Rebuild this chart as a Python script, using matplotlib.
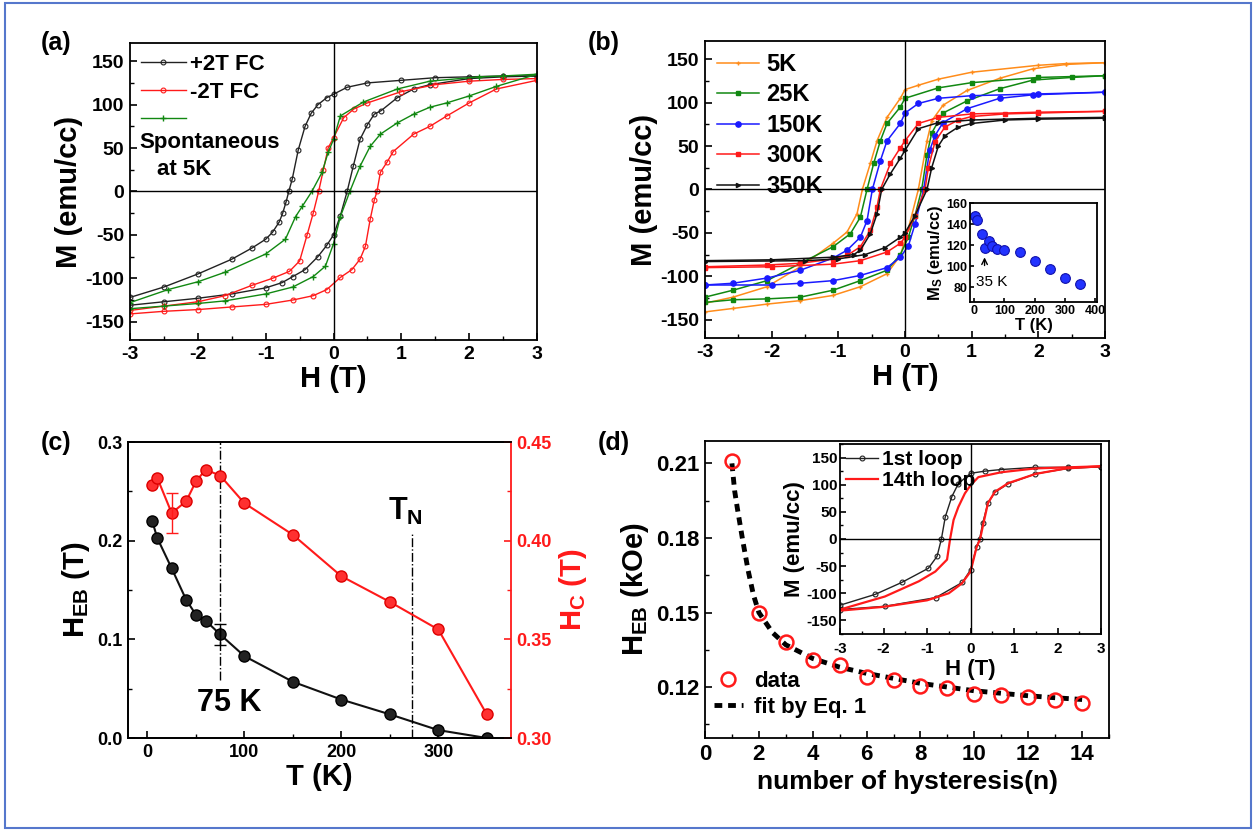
import matplotlib
matplotlib.use('Agg')
import matplotlib.pyplot as plt
from matplotlib.ticker import MultipleLocator
from matplotlib.patches import Rectangle

# ---- (a) field-cooled loops at 5 K ----
a_black_desc_H = [3.0, 2.5, 2.0, 1.5, 1.0, 0.5, 0.2, 0.0, -0.1, -0.23, -0.33, -0.42, -0.52, -0.61, -0.66, -0.7, -0.75, -0.8, -0.9, -1.0, -1.2, -1.5, -2.0, -2.5, -3.0]
a_black_desc_M = [133, 133, 132, 131, 128, 125, 120, 112, 108, 100, 90, 75, 48, 14, 0, -12, -25, -35, -47, -55, -65, -78, -95, -110, -122]
a_black_asc_H = [-3.0, -2.5, -2.0, -1.5, -1.0, -0.76, -0.6, -0.42, -0.23, -0.1, 0.0, 0.1, 0.2, 0.29, 0.39, 0.5, 0.6, 0.7, 0.94, 1.18, 1.42, 2.0, 2.5, 3.0]
a_black_asc_M = [-131, -127, -123, -118, -111, -105, -98, -90, -75, -62, -50, -28, 0, 29, 60, 77, 89, 93, 108, 118, 123, 130, 132, 133]

a_red_desc_H = [3.0, 2.5, 2.0, 1.5, 1.0, 0.5, 0.3, 0.15, 0.0, -0.08, -0.15, -0.22, -0.3, -0.39, -0.5, -0.65, -0.9, -1.2, -1.6, -2.0, -2.5, -3.0]
a_red_desc_M = [130, 129, 127, 123, 115, 102, 95, 85, 62, 50, 25, 0, -25, -50, -80, -92, -100, -108, -120, -127, -132, -137]
a_red_asc_H = [-3.0, -2.5, -2.0, -1.5, -1.0, -0.6, -0.3, -0.1, 0.1, 0.27, 0.39, 0.47, 0.54, 0.6, 0.64, 0.69, 0.79, 0.88, 1.18, 1.42, 1.67, 2.0, 2.4, 3.0]
a_red_asc_M = [-141, -138, -136, -133, -130, -125, -120, -113, -99, -90, -78, -63, -32, -10, 0, 22, 34, 46, 66, 75, 87, 102, 118, 128]

a_green_desc_H = [3.0, 2.5, 2.15, 1.42, 0.94, 0.44, 0.1, 0.0, -0.08, -0.17, -0.32, -0.46, -0.56, -0.71, -1.0, -1.6, -2.0, -2.44, -3.0]
a_green_desc_M = [135, 133, 132, 127, 118, 103, 87, 60, 45, 22, 0, -17, -29, -55, -72, -93, -104, -113, -128]
a_green_asc_H = [-3.0, -2.5, -2.0, -1.6, -1.0, -0.6, -0.3, -0.12, 0.0, 0.1, 0.24, 0.39, 0.54, 0.69, 0.94, 1.18, 1.42, 1.67, 2.0, 2.4, 3.0]
a_green_asc_M = [-135, -132, -129, -126, -118, -110, -98, -86, -60, -29, 0, 29, 52, 66, 79, 89, 97, 102, 110, 121, 135]

# ---- (b) loops at different temperatures ----
b5_desc_H = [3.0, 2.42, 2.0, 1.0, 0.5, 0.2, 0.0, -0.07, -0.27, -0.42, -0.52, -0.64, -0.72, -0.87, -1.08, -1.57, -2.07, -2.58, -3.0]
b5_desc_M = [146, 145, 143, 135, 127, 120, 115, 105, 83, 56, 30, 0, -28, -49, -62, -89, -112, -124, -131]
b5_asc_H = [-3.0, -2.58, -2.07, -1.57, -1.08, -0.67, -0.27, -0.07, 0.05, 0.2, 0.33, 0.4, 0.57, 0.93, 1.42, 1.92, 2.42, 3.0]
b5_asc_M = [-141, -137, -132, -128, -122, -112, -97, -76, -45, 0, 56, 79, 97, 114, 128, 139, 144, 146]

b25_desc_H = [3.0, 2.0, 1.0, 0.5, 0.0, -0.07, -0.27, -0.37, -0.47, -0.57, -0.67, -0.82, -1.08, -1.57, -2.07, -2.58, -3.0]
b25_desc_M = [131, 129, 123, 117, 105, 95, 76, 56, 30, 0, -32, -51, -66, -85, -105, -116, -124]
b25_asc_H = [-3.0, -2.58, -2.07, -1.57, -1.08, -0.67, -0.27, -0.07, 0.05, 0.15, 0.25, 0.33, 0.4, 0.57, 0.93, 1.42, 1.92, 2.5, 3.0]
b25_asc_M = [-130, -127, -126, -124, -116, -105, -93, -75, -55, -30, 0, 40, 65, 88, 102, 116, 126, 129, 131]

b150_desc_H = [3.0, 2.0, 1.0, 0.5, 0.2, 0.0, -0.07, -0.27, -0.37, -0.49, -0.57, -0.67, -0.87, -1.08, -1.57, -2.07, -2.58, -3.0]
b150_desc_M = [112, 110, 108, 105, 99, 88, 76, 56, 33, 0, -36, -55, -70, -79, -93, -102, -108, -110]
b150_asc_H = [-3.0, -2.0, -1.57, -1.08, -0.67, -0.27, -0.07, 0.05, 0.15, 0.28, 0.37, 0.45, 0.57, 0.93, 1.42, 1.92, 3.0]
b150_asc_M = [-110, -110, -108, -105, -99, -90, -78, -65, -40, 0, 45, 62, 77, 93, 105, 109, 112]

b300_desc_H = [3.0, 2.0, 1.0, 0.5, 0.2, 0.0, -0.07, -0.22, -0.37, -0.42, -0.52, -0.67, -0.87, -1.08, -1.57, -2.07, -3.0]
b300_desc_M = [90, 89, 87, 83, 76, 56, 48, 30, 0, -20, -47, -66, -76, -80, -85, -87, -89]
b300_asc_H = [-3.0, -2.0, -1.08, -0.67, -0.27, -0.07, 0.0, 0.15, 0.3, 0.35, 0.45, 0.6, 0.8, 1.0, 1.5, 2.0, 3.0]
b300_asc_M = [-90, -89, -86, -82, -72, -62, -55, -30, 0, 25, 55, 72, 80, 84, 87, 88, 90]

b350_desc_H = [3.0, 2.0, 1.0, 0.5, 0.2, 0.0, -0.07, -0.22, -0.35, -0.42, -0.52, -0.67, -0.77, -1.08, -2.0, -3.0]
b350_desc_M = [83, 82, 80, 77, 70, 45, 36, 18, 0, -28, -51, -70, -75, -78, -81, -82]
b350_asc_H = [-3.0, -1.5, -1.0, -0.6, -0.3, -0.07, 0.0, 0.15, 0.33, 0.4, 0.5, 0.6, 0.8, 1.0, 1.5, 2.0, 3.0]
b350_asc_M = [-83, -82, -80, -75, -67, -55, -50, -30, 0, 25, 50, 62, 72, 76, 80, 81, 82]

# inset (b): saturation magnetisation vs T
Ms_T = [5, 10, 25, 35, 50, 60, 75, 100, 150, 200, 250, 300, 350]
Ms = [148, 144, 131, 117, 124, 119, 116, 115, 113, 105, 97, 89, 83]

# ---- (c) exchange bias and coercivity vs T ----
T_c = [5, 10, 25, 40, 50, 60, 75, 100, 150, 200, 250, 300, 350]
Heb_c = [0.220, 0.203, 0.172, 0.140, 0.125, 0.119, 0.105, 0.083, 0.057, 0.039, 0.024, 0.008, 0.0]
Hc_c = [0.428, 0.432, 0.414, 0.420, 0.430, 0.436, 0.433, 0.419, 0.403, 0.382, 0.369, 0.355, 0.312]
heb_err_T, heb_err_val, heb_err = [75], [0.105], [0.011]
hc_err_T, hc_err_val, hc_err = [25], [0.414], [0.010]
T_75 = 75
T_N = 273

# ---- (d) training effect ----
n_loop = [1, 2, 3, 4, 5, 6, 7, 8, 9, 10, 11, 12, 13, 14]
Heb_n = [0.211, 0.150, 0.138, 0.131, 0.129, 0.124, 0.123, 0.1205, 0.1196, 0.1173, 0.1169, 0.1158, 0.1146, 0.1136]
n_fit = [1.0, 1.1, 1.2, 1.4, 1.6, 1.8, 2.0, 2.5, 3, 4, 5, 6, 7, 8, 9, 10, 11, 12, 13, 14]
Heb_fit = [0.210, 0.199, 0.192, 0.179, 0.167, 0.157, 0.150, 0.142, 0.137, 0.1315, 0.128, 0.1255, 0.1235, 0.1215, 0.1200, 0.1185, 0.1175, 0.1165, 0.1157, 0.1150]

# inset (d): 1st and 14th loop
d1_desc_H = [3.0, 2.24, 1.49, 0.71, 0.33, 0.0, -0.28, -0.43, -0.58, -0.67, -0.77, -0.97, -1.58, -2.19, -3.0]
d1_desc_M = [133, 132, 132, 128, 125, 121, 102, 78, 41, 0, -32, -54, -80, -102, -122]
d1_asc_H = [-3.0, -1.97, -0.8, -0.19, 0.0, 0.14, 0.21, 0.28, 0.4, 0.56, 0.87, 1.49, 2.24, 3.0]
d1_asc_M = [-130, -124, -108, -80, -57, -14, 0, 29, 66, 86, 102, 120, 130, 133]
d14_desc_H = [3.0, 1.49, 0.71, 0.18, 0.0, -0.13, -0.28, -0.39, -0.47, -0.54, -0.81, -1.19, -1.97, -3.0]
d14_desc_M = [134, 130, 123, 114, 99, 84, 59, 35, 0, -38, -60, -78, -106, -130]
d14_asc_H = [-3.0, -2.0, -1.0, -0.5, -0.2, 0.0, 0.14, 0.22, 0.3, 0.4, 0.56, 0.87, 1.5, 2.2, 3.0]
d14_asc_M = [-132, -125, -113, -100, -82, -60, -15, 0, 30, 66, 87, 103, 120, 130, 134]

plt.rcParams['font.family'] = ['Liberation Sans', 'DejaVu Sans']
plt.rcParams['font.weight'] = 'bold'
plt.rcParams['axes.labelweight'] = 'bold'
plt.rcParams['mathtext.fontset'] = 'custom'
plt.rcParams['mathtext.rm'] = 'Liberation Sans:bold'
plt.rcParams['mathtext.bf'] = 'Liberation Sans:bold'
plt.rcParams['mathtext.it'] = 'Liberation Sans:bold'
plt.rcParams['mathtext.default'] = 'bf'
plt.rcParams['axes.unicode_minus'] = False
plt.rcParams['xtick.direction'] = 'in'
plt.rcParams['ytick.direction'] = 'in'


def style(ax, fs, maj=5, mnr=3):
    ax.tick_params(which='major', length=maj, width=1.2, labelsize=fs, pad=4)
    ax.tick_params(which='minor', length=mnr, width=1.0)
    for s in ax.spines.values():
        s.set_linewidth(1.3)


def branch(ax, H, M, **kw):
    ax.plot(H, M, **kw)


fig = plt.figure(figsize=(12.54, 8.31), dpi=100)
fig.patches.append(Rectangle((5 / 1254, 3 / 831), 1246 / 1254, 825 / 831,
                             transform=fig.transFigure, fill=False,
                             edgecolor='#5577CC', lw=1.5))

# ================= (a) =================
ax = fig.add_axes([0.1037, 0.5909, 0.3246, 0.3574])
kb = dict(color='#222222', lw=1, marker='o', ms=3.5, mfc='none', mew=0.8)
kr = dict(color='#FF1A1A', lw=1, marker='o', ms=3.5, mfc='none', mew=0.8)
kg = dict(color='#118811', lw=1, marker='+', ms=4, mew=1)
branch(ax, a_black_desc_H, a_black_desc_M, **kb)
branch(ax, a_black_asc_H, a_black_asc_M, **kb)
branch(ax, a_red_desc_H, a_red_desc_M, **kr)
branch(ax, a_red_asc_H, a_red_asc_M, **kr)
branch(ax, a_green_desc_H, a_green_desc_M, **kg)
branch(ax, a_green_asc_H, a_green_asc_M, **kg)
ax.axhline(0, color='k', lw=1)
ax.axvline(0, color='k', lw=1)
ax.set_xlim(-3, 3)
ax.set_ylim(-171, 171)
ax.xaxis.set_major_locator(MultipleLocator(1))
ax.xaxis.set_minor_locator(MultipleLocator(0.5))
ax.yaxis.set_major_locator(MultipleLocator(50))
ax.yaxis.set_minor_locator(MultipleLocator(25))
style(ax, 14)
ax.set_xlabel('H (T)', fontsize=21, labelpad=2)
ax.set_ylabel('M (emu/cc)', fontsize=21, labelpad=2)
hb, = ax.plot([], [], **kb)
hr, = ax.plot([], [], **kr)
hg, = ax.plot([], [], **kg)
ax.legend([hb, hr, hg], ['+2T FC', '-2T FC', ''], loc='upper left', frameon=False,
          fontsize=16, handlelength=2.0, handletextpad=0.2, labelspacing=0.3,
          borderaxespad=0.2, borderpad=0.3)
ax.text(0.022, 0.665, 'Spontaneous', transform=ax.transAxes, fontsize=16, va='center')
ax.text(0.066, 0.575, 'at 5K', transform=ax.transAxes, fontsize=16, va='center')

# ================= (b) =================
ax = fig.add_axes([0.5622, 0.5933, 0.3190, 0.3574])
styles_b = [
    ('5K', '#FF8C1A', '+', 3.5, b5_desc_H, b5_desc_M, b5_asc_H, b5_asc_M),
    ('25K', '#118811', 's', 2.8, b25_desc_H, b25_desc_M, b25_asc_H, b25_asc_M),
    ('150K', '#1A1AFF', 'o', 3.8, b150_desc_H, b150_desc_M, b150_asc_H, b150_asc_M),
    ('300K', '#FF1A1A', 's', 3.0, b300_desc_H, b300_desc_M, b300_asc_H, b300_asc_M),
    ('350K', '#111111', '>', 3.0, b350_desc_H, b350_desc_M, b350_asc_H, b350_asc_M),
]
for lab, c, mk, ms, Hd, Md, Ha, Ma in styles_b:
    ax.plot(Hd, Md, color=c, lw=1.1, marker=mk, ms=ms, mew=1, label=lab)
    ax.plot(Ha, Ma, color=c, lw=1.1, marker=mk, ms=ms, mew=1)
ax.axhline(0, color='k', lw=1)
ax.axvline(0, color='k', lw=1)
ax.set_xlim(-3, 3)
ax.set_ylim(-171, 171)
ax.xaxis.set_major_locator(MultipleLocator(1))
ax.xaxis.set_minor_locator(MultipleLocator(0.5))
ax.yaxis.set_major_locator(MultipleLocator(50))
ax.yaxis.set_minor_locator(MultipleLocator(25))
style(ax, 14)
ax.set_xlabel('H (T)', fontsize=21, labelpad=2)
ax.set_ylabel('M (emu/cc)', fontsize=21, labelpad=2)
ax.legend(loc='upper left', frameon=False, fontsize=17, handlelength=1.8,
          handletextpad=0.3, labelspacing=0.32, borderaxespad=0.2, borderpad=0.3)

ins = fig.add_axes([0.7735, 0.6366, 0.1013, 0.1191])
ins.plot(Ms_T, Ms, 'o', color='#2233FF', mec='#1111AA', ms=7, mew=0.8)
ins.annotate('', xy=(35, 111), xytext=(35, 98),
             arrowprops=dict(arrowstyle='->', lw=1, color='k'))
ins.text(8, 85, '35 K', fontsize=11, va='center', fontweight='normal')
ins.set_xlim(-13, 405)
ins.set_ylim(66, 160)
ins.xaxis.set_major_locator(MultipleLocator(100))
ins.yaxis.set_major_locator(MultipleLocator(20))
style(ins, 9, maj=3, mnr=2)
ins.tick_params(pad=2)
ins.set_xlabel('T (K)', fontsize=12, labelpad=1)
ins.set_ylabel('M$_S$ (emu/cc)', fontsize=12, labelpad=1)

# ================= (c) =================
ax = fig.add_axes([0.1021, 0.1119, 0.3054, 0.3562])
ax2 = ax.twinx()
ax.plot(T_c, Heb_c, '-o', color='#111111', lw=1.5, ms=8, mfc='#222222', mec='#000000')
ax.errorbar(heb_err_T, heb_err_val, yerr=heb_err, fmt='none', ecolor='k', capsize=4, lw=1)
ax2.plot(T_c, Hc_c, '-o', color='#FF1A1A', lw=1.5, ms=8, mfc='#FF3030', mec='#DD0000')
ax2.errorbar(hc_err_T, hc_err_val, yerr=hc_err, fmt='none', ecolor='#FF1A1A', capsize=4, lw=1)
ax.plot([T_75, T_75], [0.059, 0.3], color='k', ls='-.', lw=1)
ax.plot([T_N, T_N], [0.0, 0.209], color='k', ls='-.', lw=1)
ax.text(84, 0.035, '75 K', fontsize=22, ha='center', va='center')
ax.text(248, 0.23, 'T$_N$', fontsize=22, ha='left', va='center')
ax.set_xlim(-20, 375)
ax.set_ylim(0, 0.3)
ax2.set_ylim(0.30, 0.45)
ax.xaxis.set_major_locator(MultipleLocator(100))
ax.xaxis.set_minor_locator(MultipleLocator(50))
ax.yaxis.set_major_locator(MultipleLocator(0.1))
ax.yaxis.set_minor_locator(MultipleLocator(0.05))
ax2.yaxis.set_major_locator(MultipleLocator(0.05))
ax2.yaxis.set_minor_locator(MultipleLocator(0.025))
ax.yaxis.set_major_formatter(plt.FormatStrFormatter('%.1f'))
ax2.yaxis.set_major_formatter(plt.FormatStrFormatter('%.2f'))
style(ax, 13)
style(ax2, 13)
ax.spines['right'].set_visible(False)
ax2.spines['right'].set_color('#FF1A1A')
ax2.tick_params(axis='y', which='both', colors='#FF1A1A')
ax.set_xlabel('T (K)', fontsize=21, labelpad=2)
ax.set_ylabel('H$_{EB}$ (T)', fontsize=21, labelpad=4)
ax2.set_ylabel('H$_C$ (T)', fontsize=21, color='#FF1A1A', labelpad=4)

# ================= (d) =================
ax = fig.add_axes([0.5622, 0.1119, 0.3222, 0.3574])
ax.plot(n_fit, Heb_fit, color='k', ls=(0, (1.6, 1.2)), lw=3.5, label='fit by Eq. 1', zorder=2)
ax.plot(n_loop, Heb_n, 'o', mfc='none', mec='#FF1A1A', ms=10, mew=1.8, label='data', zorder=3)
ax.set_xlim(0, 15)
ax.set_ylim(0.0995, 0.219)
ax.xaxis.set_major_locator(MultipleLocator(2))
ax.xaxis.set_minor_locator(MultipleLocator(1))
ax.set_yticks([0.12, 0.15, 0.18, 0.21])
ax.yaxis.set_minor_locator(MultipleLocator(0.015))
style(ax, 16)
ax.set_xlabel('number of hysteresis(n)', fontsize=19, labelpad=4)
ax.set_ylabel('H$_{EB}$ (kOe)', fontsize=21, labelpad=4)
h, l = ax.get_legend_handles_labels()
ax.legend(h[::-1], l[::-1], loc='center left', bbox_to_anchor=(0.0, 0.147), frameon=False,
          fontsize=16, handlelength=1.3, handletextpad=0.5, labelspacing=0.2,
          borderaxespad=0.0, borderpad=0.4)

ins = fig.add_axes([0.6699, 0.2371, 0.2081, 0.2286])
k1 = dict(color='#222222', lw=1, marker='o', ms=3.5, mfc='none', mew=0.8)
k14 = dict(color='#FF1A1A', lw=1.6)
ins.plot(d1_desc_H, d1_desc_M, label='1st loop', **k1)
ins.plot(d1_asc_H, d1_asc_M, **k1)
ins.plot(d14_desc_H, d14_desc_M, label='14th loop', **k14)
ins.plot(d14_asc_H, d14_asc_M, **k14)
ins.axhline(0, color='k', lw=1)
ins.axvline(0, color='k', lw=1)
ins.set_xlim(-3, 3)
ins.set_ylim(-175, 175)
ins.xaxis.set_major_locator(MultipleLocator(1))
ins.xaxis.set_minor_locator(MultipleLocator(0.5))
ins.yaxis.set_major_locator(MultipleLocator(50))
ins.yaxis.set_minor_locator(MultipleLocator(25))
style(ins, 11, maj=4, mnr=2.5)
ins.tick_params(axis='y', pad=2)
ins.tick_params(axis='x', pad=6)
ins.set_xlabel('H (T)', fontsize=16, labelpad=2)
ins.set_ylabel('M (emu/cc)', fontsize=16, labelpad=1)
ins.legend(loc='upper left', frameon=False, fontsize=15, handlelength=1.5,
           handletextpad=0.2, labelspacing=0.1, borderaxespad=0.1, borderpad=0.2)

# panel letters
for lab, x, y in [('(a)', 41, 43), ('(b)', 588, 43), ('(c)', 41, 443), ('(d)', 598, 443)]:
    fig.text(x / 1254, 1 - y / 831, lab, fontsize=18, va='center', ha='left')

fig.savefig('out.png', dpi=100)
